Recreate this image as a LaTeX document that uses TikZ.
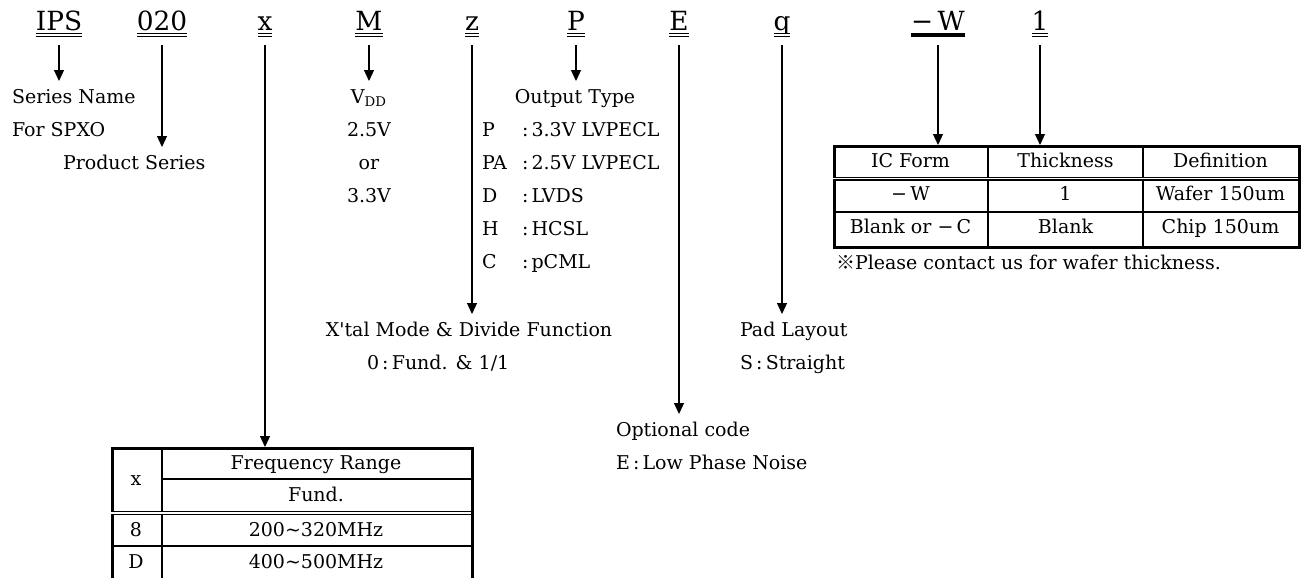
\documentclass[tikz,border=0pt]{standalone}
\usepackage{fontspec}
\setmainfont{DejaVu Serif}[Ligatures=TeXOff]
\newfontfamily\cjk{Noto Sans CJK JP}
\usetikzlibrary{shapes,arrows.meta,positioning,calc}

\begin{document}
\begin{tikzpicture}[x=0.5pt, y=-0.5pt,
  code/.style={inner xsep=0pt, inner ysep=0pt, outer xsep=0pt, outer ysep=7pt, text height=9pt, text depth=0pt, font=\fontsize{13.2}{15}\selectfont, anchor=base},
  txt/.style={inner sep=0pt, outer xsep=0pt, outer ysep=4pt, text height=7pt, text depth=2pt, font=\fontsize{9.5}{11}\selectfont},
  arr/.style={line width=0.6pt, -{Triangle[width=5pt,length=5.5pt]}},
  uline/.style={line width=0.5pt, double, double distance=0.7pt},
  tab/.style={draw, line width=1.3pt, inner sep=0pt},
  cell/.style={line width=0.9pt},
  dbl/.style={line width=0.6pt, double, double distance=0.8pt}]

\useasboundingbox (0,0) rectangle (1306,578);

% Part number
\node[code] (ips) at (59,31) {IPS};
\node[code] (ser) at (162,31) {020};
\node[code] (frq) at (265,31) {x};
\node[code] (vdd) at (369,31) {M};
\node[code] (xtl) at (472,31) {z};
\node[code] (out) at (576,31) {P};
\node[code] (opt) at (679,31) {E};
\node[code] (pad) at (782,31) {q};
\node[code] (form) at (938,31) {−\,W};
\node[code] (thk) at (1040,31) {1};

\foreach \n in {ips,ser,frq,vdd,xtl,out,opt,pad,thk}
  \draw[uline] ($(\n.base west)+(0,4)$) -- ($(\n.base east)+(0,4)$);
\draw[line width=1.6pt] ($(form.base west)+(0,4)$) -- ($(form.base east)+(0,4)$);

% Series and product series
\node[txt, anchor=base west] (sname) at (12,103) {Series Name};
\node[txt, anchor=base west] (spxo) at (12,136) {For SPXO};
\node[txt, anchor=base west] (pser) at (63,169) {Product Series};
\draw[arr] (ips.south) -- (ips.south |- sname.north);
\draw[arr] (ser.south) -- (ser.south |- pser.north);

% Supply voltage
\node[txt, anchor=base] (vddt) at (369,103) {V\textsubscript{DD}};
\node[txt, anchor=base] (v25) at (369,136) {2.5V};
\node[txt, anchor=base] (vor) at (369,169) {or};
\node[txt, anchor=base] (v33) at (369,202) {3.3V};
\draw[arr] (vdd.south) -- (vdd.south |- vddt.north);

% Output type
\node[txt, anchor=base] (outt) at (575,103) {Output Type};
\foreach \k/\v [count=\i] in {P/3.3V LVPECL, PA/2.5V LVPECL, D/LVDS, H/HCSL, C/pCML} {
  \node[txt, anchor=base west] (ok\i) at (482,103+33*\i) {\k};
  \node[txt, anchor=base west] (ov\i) at (522,103+33*\i) {:\,\v};
}
\draw[arr] (out.south) -- (out.south |- outt.north);

% X'tal mode, pad layout, optional code
\node[txt, anchor=base] (xtlt) at (469,336) {X'tal Mode \& Divide Function};
\node[txt, anchor=base west] (xtl0) at (367,369) {0\,:\,Fund. \& 1/1};
\node[txt, anchor=base west] (padt) at (740,336) {Pad Layout};
\node[txt, anchor=base west] (pads) at (740,369) {S\,:\,Straight};
\node[txt, anchor=base west] (optt) at (616,436) {Optional code};
\node[txt, anchor=base west] (opte) at (616,469) {E\,:\,Low Phase Noise};
\draw[arr] (xtl.south) -- (xtl.south |- xtlt.north);
\draw[arr] (pad.south) -- (pad.south |- padt.north);
\draw[arr] (opt.south) -- (opt.south |- optt.north);

% Frequency table
\node[tab, minimum width=180pt, minimum height=80pt, anchor=north west] (ftab) at (111,447) {};
\draw[cell] (162,447) -- (162,600);
\draw[cell] (162,479) -- (471,479);
\draw[dbl] (111,513) -- (471,513);
\draw[cell] (111,546) -- (471,546);
\node[txt, anchor=base] (fx) at (136,485) {x};
\node[txt, anchor=base] (fhd) at (316,469) {Frequency Range};
\node[txt, anchor=base] (ffd) at (316,501) {Fund.};
\node[txt, anchor=base] (f8) at (136,536) {8};
\node[txt, anchor=base] (f8r) at (316,536) {200\textasciitilde 320MHz};
\node[txt, anchor=base] (fd) at (136,568) {D};
\node[txt, anchor=base] (fdr) at (316,568) {400\textasciitilde 500MHz};
\draw[arr] (frq.south) -- (frq.south |- ftab.north);

% IC form table
\node[tab, minimum width=232.5pt, minimum height=50.5pt, anchor=north west] (ictab) at (833,145) {};
\draw[cell] (988,145) -- (988,246);
\draw[cell] (1143,145) -- (1143,246);
\draw[dbl] (833,178.5) -- (1298,178.5);
\draw[cell] (833,212) -- (1298,212);
\foreach \a/\b/\c [count=\i] in {IC Form/Thickness/Definition, −\,W/1/Wafer 150um, Blank or −\,C/Blank/Chip 150um} {
  \node[txt, anchor=base] (ica\i) at (910.5,134+33*\i) {\a};
  \node[txt, anchor=base] (icb\i) at (1065.5,134+33*\i) {\b};
  \node[txt, anchor=base] (icc\i) at (1220.5,134+33*\i) {\c};
}
\node[txt, anchor=base west] (note) at (836,269) {{\cjk ※}Please contact us for wafer thickness.};
\draw[arr] (form.south) -- (form.south |- ictab.north);
\draw[arr] (thk.south) -- (thk.south |- ictab.north);

\end{tikzpicture}
\end{document}
